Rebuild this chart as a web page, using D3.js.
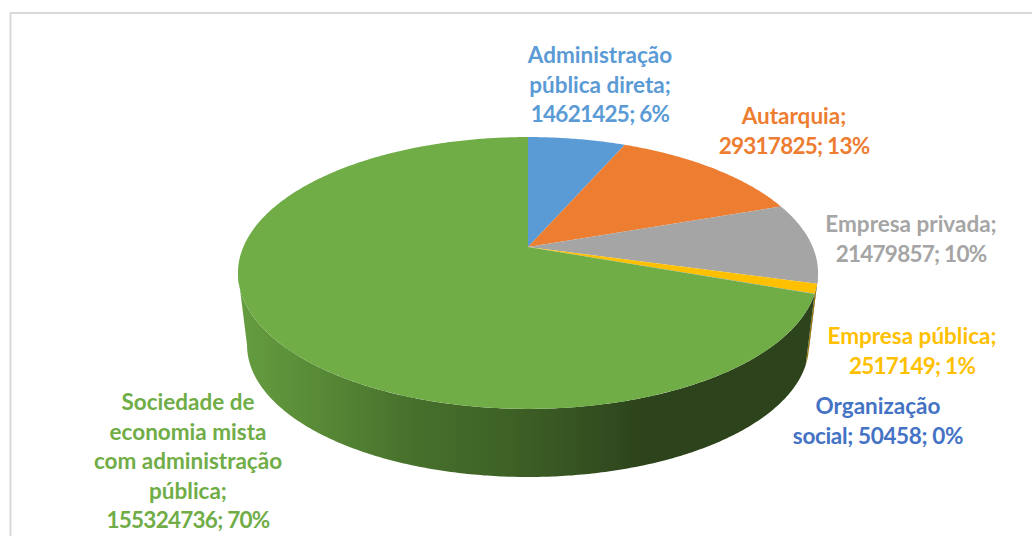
<!DOCTYPE html>
<html>
<head>
<meta charset="utf-8">
<script src="https://cdn.jsdelivr.net/npm/d3@7"></script>
<style>
  html, body { margin: 0; padding: 0; background: #fff; overflow: hidden; }
  text { font-family: Lato, "Open Sans", sans-serif; font-weight: 700; font-size: 22.5px; text-anchor: middle; }
</style>
</head>
<body>
<div id="chart"></div>
<script>
const categories = [
  "Administração pública direta",
  "Autarquia",
  "Empresa privada",
  "Empresa pública",
  "Organização social",
  "Sociedade de economia mista com administração pública"
];
const values = [14621425, 29317825, 21479857, 2517149, 50458, 155324736];
const percents = ["6%", "13%", "10%", "1%", "0%", "70%"];
const colors = ["#5b9bd5", "#ed7d31", "#a5a5a5", "#ffc000", "#4472c4", "#70ad47"];

// label text as wrapped in the picture, one array per slice
const labelLines = [
  ["Administração", "pública direta;", values[0] + "; " + percents[0]],
  ["Autarquia;", values[1] + "; " + percents[1]],
  ["Empresa privada;", values[2] + "; " + percents[2]],
  ["Empresa pública;", values[3] + "; " + percents[3]],
  ["Organização", "social; " + values[4] + "; " + percents[4]],
  ["Sociedade de", "economia mista", "com administração", "pública;", values[5] + "; " + percents[5]]
];
// x centre, first baseline
const labelPos = [[600, 63], [794, 124], [911, 232], [912, 344], [878, 414], [188, 410]];
const lineGap = 29.5;

const width = 1032, height = 536;
const cx = 528;

const svg = d3.select("#chart").append("svg")
  .attr("width", width)
  .attr("height", height);

// chart area border, runs off the right and bottom of the crop
svg.append("path")
  .attr("d", "M10.5," + height + "V13H" + width)
  .attr("fill", "none")
  .attr("stroke", "#d9d9d9")
  .attr("stroke-width", 2);

// Excel-style perspective: a unit disc (u, v) pushed through a projective map,
// so the pie centre sits above the middle of the ellipse
const persp = -0.191;
const topPlane = { a: 83.8, b: 247, rx: 284.7 };
const bottomPlane = { a: 66.1, b: 319.8, rx: 275.8 };

// angles where the rim turns from back to front, the wall only exists between them
const wallStart = Math.acos(persp);
const wallEnd = 2 * Math.PI - wallStart;

function project(plane, angle) {
  const u = Math.sin(angle), v = -Math.cos(angle), w = 1 + persp * v;
  return [cx + plane.rx * u / w, (plane.a * v + plane.b) / w];
}

function arcPoints(plane, a0, a1) {
  const n = Math.max(2, Math.ceil((a1 - a0) / 0.01));
  return d3.range(n + 1).map((i) => project(plane, a0 + (a1 - a0) * i / n));
}

const line = d3.line();
const color = d3.scaleOrdinal().domain(categories).range(colors);

const arcs = d3.pie().sort(null)(values).map((d, i) => {
  d.name = categories[i];
  return d;
});

// Side wall shading, light on the left and nearly flat dark on the right
const grad = svg.append("defs").append("linearGradient")
  .attr("id", "wall")
  .attr("gradientUnits", "userSpaceOnUse")
  .attr("x1", 238).attr("x2", 818).attr("y1", 0).attr("y2", 0);
[[0, "#669d40"], [0.15, "#578836"], [0.3, "#47702c"], [0.47, "#3e6126"],
 [0.62, "#334e20"], [0.7, "#2d431b"], [1, "#2d431b"]].forEach((s) => {
  grad.append("stop").attr("offset", s[0]).attr("stop-color", s[1]);
});

// Walls first, the top face is painted over whatever is hidden
svg.append("g").selectAll("path")
  .data(arcs.filter((d) => d.endAngle > wallStart))
  .enter()
  .append("path")
  .attr("d", (d) => {
    const a0 = Math.max(d.startAngle, wallStart), a1 = Math.min(d.endAngle, wallEnd);
    const top = arcPoints(topPlane, a0, a1);
    const bottom = arcPoints(bottomPlane, a0, a1).reverse();
    return line(top.concat(bottom)) + "Z";
  })
  .attr("fill", (d) => d.name === categories[5] ? "url(#wall)" : d3.color(color(d.name)).darker(1.4));

svg.append("g").selectAll("path")
  .data(arcs)
  .enter()
  .append("path")
  .attr("d", (d) => line([[cx, topPlane.b]].concat(arcPoints(topPlane, d.startAngle, d.endAngle))) + "Z")
  .attr("fill", (d) => color(d.name));

// Labels. Lato digits run wider than the original font, so tighten those lines
svg.append("g").selectAll("text")
  .data(labelLines)
  .enter()
  .append("text")
  .attr("x", (d, i) => labelPos[i][0])
  .attr("y", (d, i) => labelPos[i][1])
  .attr("fill", (d, i) => colors[i])
  .selectAll("tspan")
  .data((d) => d)
  .enter()
  .append("tspan")
  .attr("x", function () { return this.parentNode.getAttribute("x"); })
  .attr("dy", (d, i) => i ? lineGap : 0)
  .style("letter-spacing", (d) => /^\d/.test(d) ? "-0.75px" : /\d/.test(d) ? "-0.35px" : null)
  .text((d) => d);
</script>
</body>
</html>
